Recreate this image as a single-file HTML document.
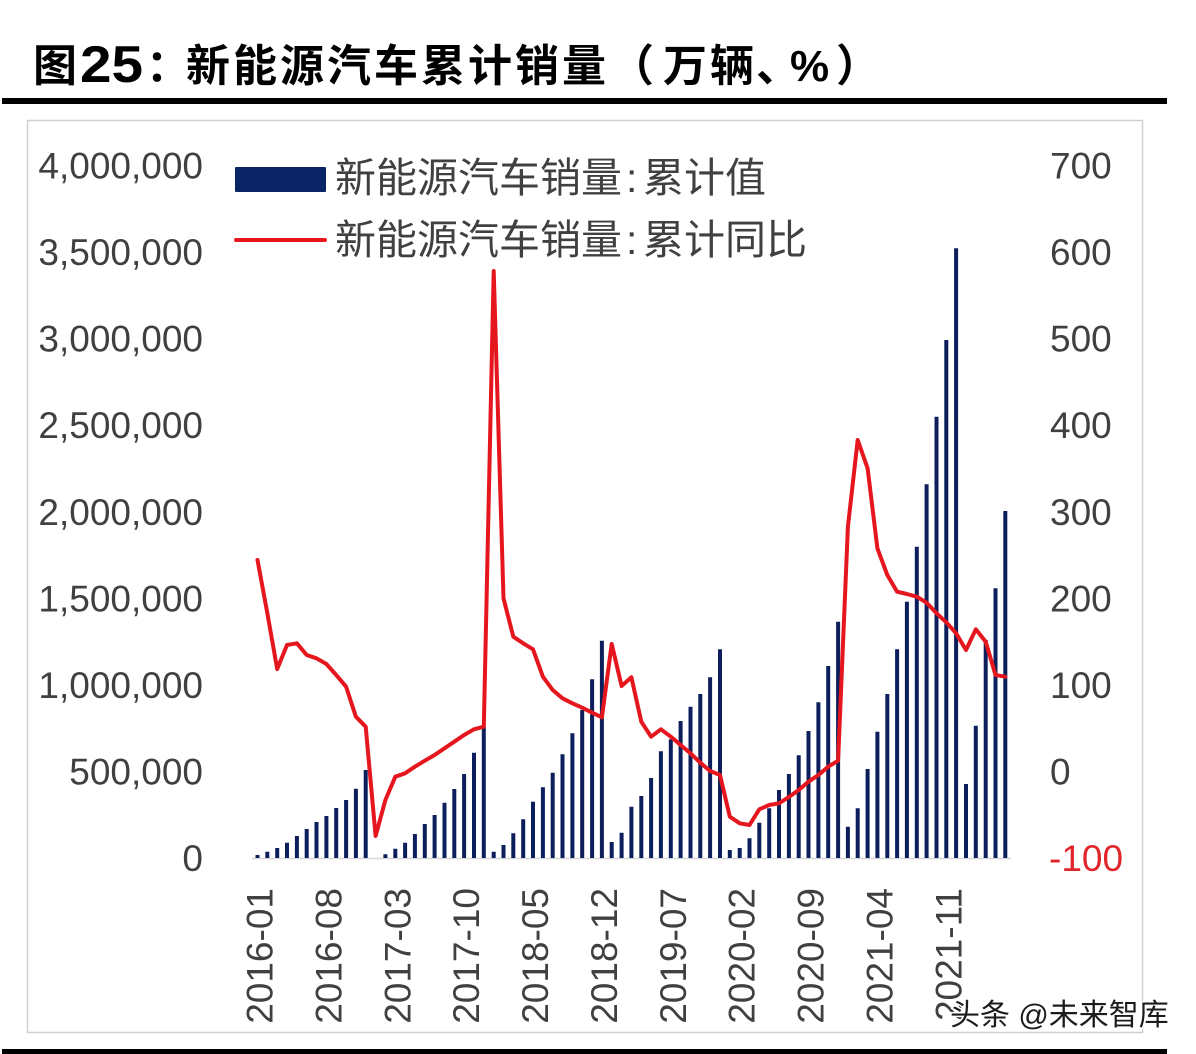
<!DOCTYPE html>
<html>
<head>
<meta charset="utf-8">
<style>
  html, body { margin:0; padding:0; background:#ffffff; }
  body { width:1196px; height:1054px; overflow:hidden; }
  svg { display:block; }
  .ax { font-family:"Liberation Sans","Noto Sans CJK SC",sans-serif; font-size:37px; fill:#404040; }
  .lg { font-family:"Liberation Sans","Noto Sans CJK SC",sans-serif; font-size:41px; fill:#404040; }
  .tt { font-family:"Liberation Sans","Noto Sans CJK SC",sans-serif; font-weight:bold; fill:#000; }
</style>
</head>
<body>
<svg width="1196" height="1054" viewBox="0 0 1196 1054" xmlns="http://www.w3.org/2000/svg">
  <rect x="0" y="0" width="1196" height="1054" fill="#ffffff"/>

  <!-- Title -->
  <text class="tt" x="33" y="81" font-size="44">图</text>
  <text class="tt" x="80" y="82" font-size="52" textLength="63" lengthAdjust="spacingAndGlyphs">25</text>
  <text class="tt" x="146" y="81" font-size="44">：</text>
  <text class="tt" x="186" y="81" font-size="44" textLength="420" lengthAdjust="spacing">新能源汽车累计销量</text>
  <text class="tt" x="610" y="81" font-size="44">（</text>
  <text class="tt" x="663" y="81" font-size="44" textLength="91" lengthAdjust="spacing">万辆</text>
  <text class="tt" x="756" y="81" font-size="44">、</text>
  <text class="tt" x="790" y="81" font-size="44">%</text>
  <text class="tt" x="836" y="81" font-size="44">）</text>

  <!-- top thick rule -->
  <rect x="2" y="98" width="1165" height="6" fill="#000"/>

  <!-- chart box -->
  <rect x="27.5" y="120.5" width="1115" height="912" fill="#ffffff" stroke="#cfcfcf" stroke-width="1.5"/>

  <!-- bottom thick rule -->
  <rect x="2" y="1049" width="1165" height="5" fill="#000"/>

  <!-- left axis labels -->
  <g class="ax" text-anchor="end">
    <text x="203" y="871.2">0</text>
    <text x="203" y="784.6">500,000</text>
    <text x="203" y="698">1,000,000</text>
    <text x="203" y="611.4">1,500,000</text>
    <text x="203" y="524.8">2,000,000</text>
    <text x="203" y="438.2">2,500,000</text>
    <text x="203" y="351.6">3,000,000</text>
    <text x="203" y="265">3,500,000</text>
    <text x="203" y="178.4">4,000,000</text>
  </g>

  <!-- right axis labels -->
  <g class="ax" text-anchor="start">
    <text x="1049" y="871.2" fill="#e0262b" style="fill:#e0262b">-100</text>
    <text x="1050" y="784.6">0</text>
    <text x="1050" y="698">100</text>
    <text x="1050" y="611.4">200</text>
    <text x="1050" y="524.8">300</text>
    <text x="1050" y="438.2">400</text>
    <text x="1050" y="351.6">500</text>
    <text x="1050" y="265">600</text>
    <text x="1050" y="178.4">700</text>
  </g>

  <!-- x axis baseline -->
  <line x1="252" y1="858.5" x2="1011" y2="858.5" stroke="#d6d6d6" stroke-width="1.5"/>

  <!-- bars -->
  <path fill="none" stroke="#0c1f5c" stroke-width="4" d="
M257.5 858V855 M267.3 858V851.7 M277.2 858V848 M287 858V842.7 M296.9 858V836 M306.7 858V829
M316.5 858V822 M326.4 858V816 M336.2 858V808 M346.1 858V800 M355.9 858V788.7 M365.7 858V770
M385.4 858V854.3 M395.3 858V848.7 M405.1 858V842.7 M414.9 858V834 M424.8 858V824 M434.6 858V815
M444.5 858V802.7 M454.3 858V789 M464.1 858V774 M474 858V752.7 M483.8 858V726.5
M493.7 858V851.7 M503.5 858V845 M513.3 858V833.3 M523.2 858V819.3 M533 858V801.7 M542.9 858V787.3
M552.7 858V772.7 M562.5 858V754.3 M572.4 858V733.3 M582.2 858V710 M592.1 858V679.3 M601.9 858V640.7
M611.7 858V842 M621.6 858V832.7 M631.4 858V806.7 M641.3 858V796 M651.1 858V778 M660.9 858V751.3
M670.8 858V739.3 M680.6 858V721 M690.5 858V706.7 M700.3 858V694 M710.1 858V677.3 M720 858V649.3
M729.8 858V850 M739.7 858V848 M749.5 858V838.3 M759.3 858V822.7 M769.2 858V808.3 M779 858V790
M788.9 858V774 M798.7 858V755.3 M808.5 858V731 M818.4 858V702.3 M828.2 858V666 M838.1 858V621.7
M847.9 858V826.7 M857.7 858V808.3 M867.6 858V769 M877.4 858V731.7 M887.3 858V694 M897.1 858V649.3
M906.9 858V601.7 M916.8 858V546.7 M926.6 858V484.3 M936.5 858V416.7 M946.3 858V340 M956.1 858V248.3
M966 858V784 M975.8 858V725.7 M985.7 858V640 M995.5 858V588.3 M1005.3 858V511"/>

  <!-- line -->
  <polyline fill="none" stroke="#e5161d" stroke-width="4" stroke-linejoin="round" stroke-linecap="round" points="
257.5,560 267.3,613 277.2,669 287,645 296.9,643.3 306.7,655 316.5,658.3 326.4,664 336.2,675 346.1,686.7
355.9,716.7 365.7,726.7 375.6,836 385.4,800 395.3,776.7 405.1,773.3 414.9,766.7 424.8,760.7 434.6,755
444.5,748.3 454.3,741.7 464.1,735 474,729.3 483.8,726.7 493.7,271 503.5,598.3 513.3,636.7 523.2,643.3
533,649.3 542.9,676.7 552.7,690 562.5,698.3 572.4,703.3 582.2,707.7 592.1,712.7 601.9,717.3 611.7,644
621.6,686 631.4,677.3 641.3,721.7 651.1,736.7 660.9,729.3 670.8,736.7 680.6,745 690.5,753.3 700.3,762.7
710.1,771 720,775 729.8,816.7 739.7,823.3 749.5,825 759.3,809.3 769.2,805 779,803.3 788.9,797 798.7,790
808.5,781.7 818.4,775 828.2,766.7 838.1,760.7 847.9,526.7 857.7,440 867.6,468.3 877.4,548.3 887.3,575
897.1,591.7 906.9,594 916.8,596.7 926.6,602.7 936.5,613.3 946.3,622.3 956.1,633.3 966,650 975.8,629.3
985.7,641.7 995.5,675 1005.3,676.7"/>

  <!-- legend -->
  <rect x="235" y="167" width="91" height="25" fill="#0b2466" rx="1"/>
  <line x1="236" y1="240" x2="325" y2="240" stroke="#e5161d" stroke-width="4" stroke-linecap="round"/>
  <text class="lg" x="335" y="192">新能源汽车销量<tspan x="626">:</tspan><tspan x="643">累计值</tspan></text>
  <text class="lg" x="335" y="254">新能源汽车销量<tspan x="626">:</tspan><tspan x="643">累计同比</tspan></text>

  <!-- x axis labels -->
  <g class="ax" text-anchor="end">
    <text transform="translate(259.5,888) rotate(-90)" dy="13">2016-01</text>
    <text transform="translate(328.4,888) rotate(-90)" dy="13">2016-08</text>
    <text transform="translate(397.3,888) rotate(-90)" dy="13">2017-03</text>
    <text transform="translate(466.1,888) rotate(-90)" dy="13">2017-10</text>
    <text transform="translate(535,888) rotate(-90)" dy="13">2018-05</text>
    <text transform="translate(603.9,888) rotate(-90)" dy="13">2018-12</text>
    <text transform="translate(672.8,888) rotate(-90)" dy="13">2019-07</text>
    <text transform="translate(741.7,888) rotate(-90)" dy="13">2020-02</text>
    <text transform="translate(810.5,888) rotate(-90)" dy="13">2020-09</text>
    <text transform="translate(879.4,888) rotate(-90)" dy="13">2021-04</text>
    <text transform="translate(948.3,888) rotate(-90)" dy="13">2021-11</text>
  </g>

  <!-- watermark -->
  <text x="950" y="1025" font-family="'Liberation Sans','Noto Sans CJK SC',sans-serif" font-size="30" fill="#1c1c1c" stroke="#ffffff" stroke-width="3" paint-order="stroke" style="paint-order:stroke">头条 @未来智库</text>
</svg>
</body>
</html>
